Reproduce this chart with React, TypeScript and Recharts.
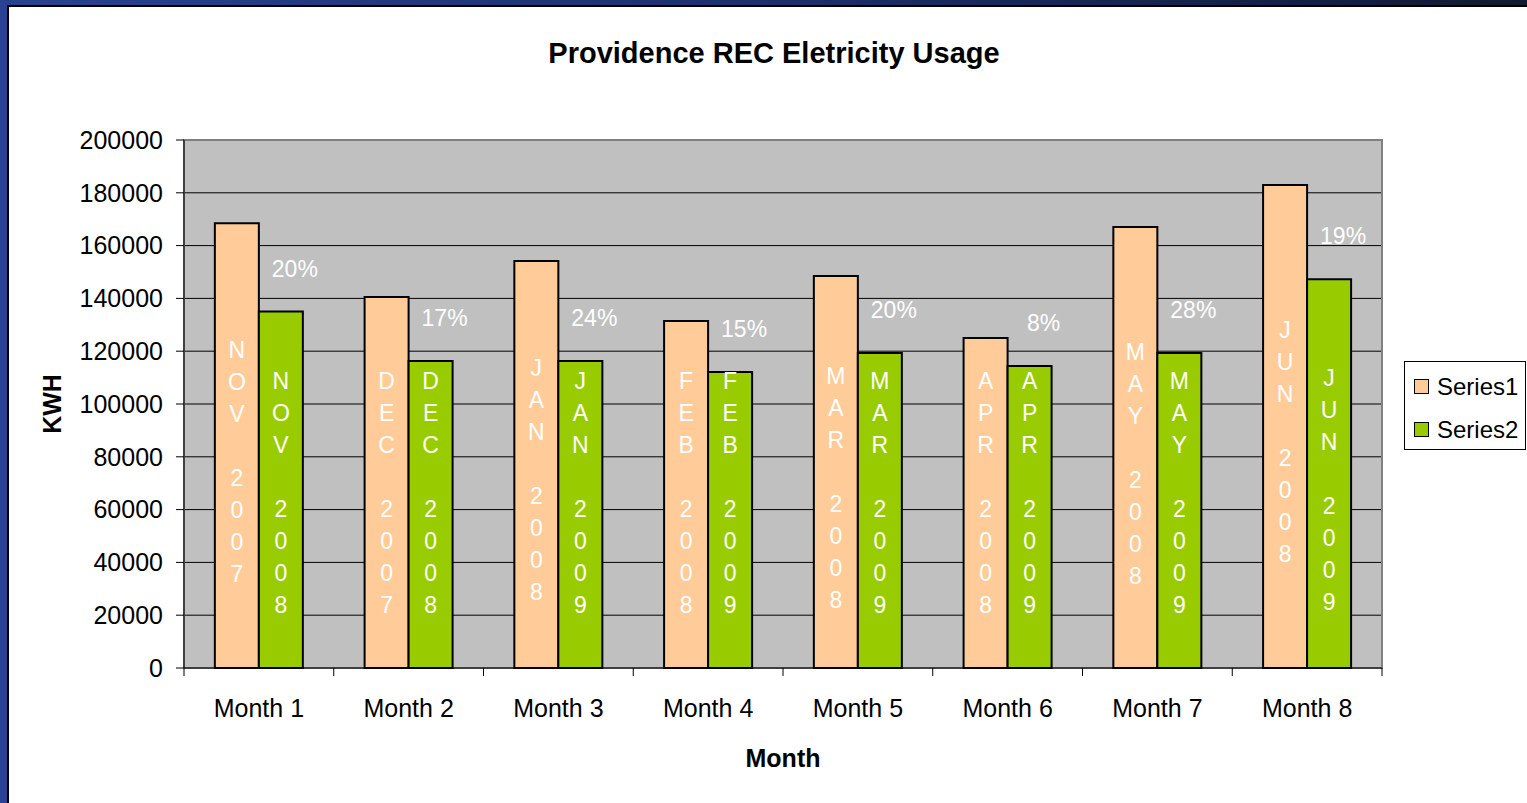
import {
  BarChart,
  Bar,
  XAxis,
  YAxis,
  CartesianGrid,
  LabelList,
  Legend,
  ReferenceArea
} from "recharts";

const months = ["Month 1", "Month 2", "Month 3", "Month 4", "Month 5", "Month 6", "Month 7", "Month 8"];
const series1 = [168500, 140500, 154200, 131400, 148500, 125000, 167000, 183000];
const series2 = [135000, 116300, 116300, 112100, 119300, 114400, 119300, 147300];
const periods1 = ["NOV 2007", "DEC 2007", "JAN 2008", "FEB 2008", "MAR 2008", "APR 2008", "MAY 2008", "JUN 2008"];
const periods2 = ["NOV 2008", "DEC 2008", "JAN 2009", "FEB 2009", "MAR 2009", "APR 2009", "MAY 2009", "JUN 2009"];
const savings = ["20%", "17%", "24%", "15%", "20%", "8%", "28%", "19%"];
const yTicks = [0, 20000, 40000, 60000, 80000, 100000, 120000, 140000, 160000, 180000, 200000];

const data = months.map((month, i) => ({
  month,
  s1: series1[i],
  s2: series2[i],
  p1: periods1[i],
  p2: periods2[i],
  pct: savings[i]
}));

const W = 1527;
const H = 803;
const AXIS_W = 110;
const X_AXIS_H = 100;
const PLOT_BOTTOM = 668;
const MARGIN = { top: 140, right: 145, bottom: H - PLOT_BOTTOM - X_AXIS_H, left: 184 - AXIS_W };
const BAND = (W - MARGIN.left - AXIS_W - MARGIN.right) / months.length;
const FONT = "'Liberation Sans', Arial, sans-serif";

// letters stacked one per line, as in the original slide
function StackedLabel(props: any) {
  const { x, y, width, height, value } = props;
  const chars = String(value).split("");
  const step = 32;
  const maxCenter = PLOT_BOTTOM - 175;
  const center = Math.min(y + height / 2 + 16, maxCenter);
  const cx = x + width / 2;
  return (
    <g>
      {chars.map((c, i) =>
        c === " " ? null : (
          <text
            key={i}
            x={cx}
            y={center + (i - (chars.length - 1) / 2) * step}
            textAnchor="middle"
            dominantBaseline="central"
            fill="#fff"
            fontSize={23}
            fontFamily={FONT}
          >
            {c}
          </text>
        )
      )}
    </g>
  );
}

function PctLabel(props: any) {
  const { x, y, width, value } = props;
  return (
    <text x={x + width / 2 + 14} y={y - 35} textAnchor="middle" fill="#fff" fontSize={23} fontFamily={FONT}>
      {value}
    </text>
  );
}

function MonthTick(props: any) {
  const { x, payload, index } = props;
  return (
    <g>
      <line x1={x - BAND / 2} x2={x - BAND / 2} y1={PLOT_BOTTOM} y2={PLOT_BOTTOM + 8} stroke="#000" />
      {index === months.length - 1 && (
        <line x1={x + BAND / 2} x2={x + BAND / 2} y1={PLOT_BOTTOM} y2={PLOT_BOTTOM + 8} stroke="#000" />
      )}
      <text x={x} y={PLOT_BOTTOM + 49} textAnchor="middle" fill="#000" fontSize={25} fontFamily={FONT}>
        {payload.value}
      </text>
    </g>
  );
}

function MonthTitle(props: any) {
  const { viewBox } = props;
  return (
    <text
      x={viewBox.x + viewBox.width / 2}
      y={PLOT_BOTTOM + 99}
      textAnchor="middle"
      fill="#000"
      fontSize={25}
      fontWeight="bold"
      fontFamily={FONT}
    >
      Month
    </text>
  );
}

function LegendBox(props: any) {
  const items = props.payload || [];
  return (
    <div
      style={{
        border: "1px solid #000",
        background: "#fff",
        width: 122,
        height: 89,
        boxSizing: "border-box",
        padding: "3px 0 0 9px",
        fontFamily: FONT,
        fontSize: 24
      }}
    >
      {items.map((it: any) => (
        <div key={it.value} style={{ display: "flex", alignItems: "center", height: 43 }}>
          <span
            style={{
              width: 13,
              height: 13,
              background: it.color,
              border: "1px solid #000",
              marginRight: 8,
              display: "inline-block"
            }}
          />
          <span>{it.value}</span>
        </div>
      ))}
    </div>
  );
}

export default function App() {
  return (
    <div
      style={{
        position: "absolute",
        left: 0,
        top: 0,
        width: W,
        height: H,
        background: "linear-gradient(to right, #2b4292, #1d2f6e 50%, #101a30)",
        overflow: "hidden"
      }}
    >
      <div
        style={{
          position: "absolute",
          left: 7,
          top: 5,
          right: 0,
          bottom: 0,
          background: "#fff",
          borderTop: "2px solid #000",
          borderLeft: "2px solid #000"
        }}
      />
      <div
        style={{
          position: "absolute",
          left: 0,
          width: 1548,
          top: 37,
          textAlign: "center",
          fontFamily: FONT,
          fontWeight: "bold",
          fontSize: 29
        }}
      >
        Providence REC Eletricity Usage
      </div>
      <div style={{ position: "absolute", left: 0, top: 0 }}>
        <BarChart width={W} height={H} data={data} margin={MARGIN} barGap={0} barCategoryGap="20.6%">
          <CartesianGrid fill="#C0C0C0" stroke="#000" vertical={false} />
          <ReferenceArea y1={0} y2={200000} fill="none" stroke="#808080" strokeWidth={2} ifOverflow="visible" />
          <XAxis
            dataKey="month"
            height={X_AXIS_H}
            tick={<MonthTick />}
            tickLine={false}
            axisLine={{ stroke: "#000" }}
            interval={0}
            label={<MonthTitle />}
          />
          <YAxis
            width={AXIS_W}
            domain={[0, 200000]}
            ticks={yTicks}
            interval={0}
            tickSize={8}
            tickMargin={13}
            tickLine={{ stroke: "#000" }}
            axisLine={{ stroke: "#000" }}
            tick={{ fill: "#000", fontSize: 25, fontFamily: FONT }}
            label={{
              value: "KWH",
              angle: -90,
              position: "insideLeft",
              offset: -22,
              fill: "#000",
              fontSize: 25,
              fontWeight: "bold",
              fontFamily: FONT,
              style: { textAnchor: "middle" }
            }}
          />
          <Legend
            layout="vertical"
            align="center"
            verticalAlign="middle"
            wrapperStyle={{ left: 1404, top: 361, width: 122 }}
            content={<LegendBox />}
          />
          <Bar dataKey="s1" name="Series1" fill="#FFCC99" stroke="#000" strokeWidth={2} isAnimationActive={false}>
            <LabelList dataKey="p1" content={<StackedLabel />} />
          </Bar>
          <Bar dataKey="s2" name="Series2" fill="#99CC00" stroke="#000" strokeWidth={2} isAnimationActive={false}>
            <LabelList dataKey="p2" content={<StackedLabel />} />
            <LabelList dataKey="pct" content={<PctLabel />} />
          </Bar>
        </BarChart>
      </div>
    </div>
  );
}
